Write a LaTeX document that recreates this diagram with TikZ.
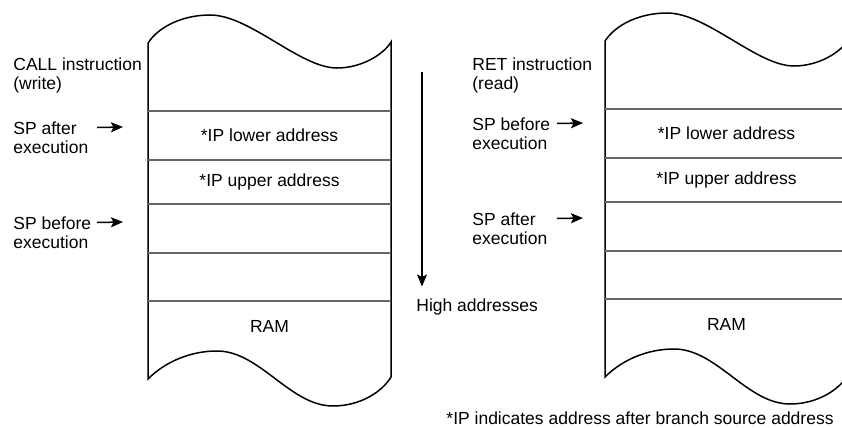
\documentclass[tikz,border=0pt]{standalone}
\usepackage{fontspec}
\setmainfont{Liberation Sans}
\usetikzlibrary{arrows.meta, positioning}
\tikzset{
  lbl/.style={anchor=north west, inner sep=0pt, align=left,
    font=\fontsize{8.75}{9.5}\selectfont},
  cell/.style={inner sep=0pt, font=\fontsize{8.75}{9.5}\selectfont},
  arrow/.style={-{Stealth[length=6pt,width=5pt,inset=1.2pt]}, line width=0.75pt},
  outline/.style={line width=0.75pt},
  rowline/.style={draw=black!60, line width=0.55pt},
}
\begin{document}
\begin{tikzpicture}[x=0.5pt, y=-0.5pt]
  \useasboundingbox (0,0) rectangle (842,428);
  \clip (0,0) rectangle (842,428);

  % the two stack pictures (write / read)
  \foreach \dx/\dy/\s in {0/0/l, 457/-2/r}{
    \begin{scope}[shift={(\dx,\dy)}]
      \draw[outline] (148,43) .. controls (160,25) and (185,15) .. (210,15)
        .. controls (250,15) and (300,68) .. (337,68)
        .. controls (362,68) and (384,54) .. (391,42)
        -- (391,377)
        .. controls (382,392) and (360,406) .. (333,406)
        .. controls (290,406) and (260,351) .. (217,351)
        .. controls (190,351) and (165,362) .. (148,379) -- cycle;
      \foreach \yy in {111,160,204,253,301}
        \draw[rowline] (148,\yy) -- (391,\yy);
      \node[cell] (lo\s)  at (269.5,135) {*IP lower address};
      \node[cell] (up\s)  at (269.5,182) {*IP upper address};
      \node[cell] (ram\s) at (269.5,326) {RAM};
    \end{scope}
  }

  % labels, left
  \node[lbl] (call)     at (13,57.5) {CALL instruction\\(write)};
  \node[lbl] (lspafter) at (13,121)  {SP after\\execution};
  \node[lbl] (lspbefore)at (13,216)  {SP before\\execution};
  \coordinate (lpa) at (123,127);
  \coordinate (lpb) at (123,222);
  \draw[arrow] (lspafter.north west) ++(84,6.5) -- (lpa);
  \draw[arrow] (lspbefore.north west) ++(84,6.5) -- (lpb);

  % labels, right
  \node[lbl] (ret)       at (472,57.5) {RET instruction\\(read)};
  \node[lbl] (rspbefore) at (472,117)  {SP before\\execution};
  \node[lbl] (rspafter)  at (472,212)  {SP after\\execution};
  \coordinate (rpb) at (583,123);
  \coordinate (rpa) at (583,218);
  \draw[arrow] (rspbefore.north west) ++(85,6.5) -- (rpb);
  \draw[arrow] (rspafter.north west) ++(85,6.5) -- (rpa);

  % address direction
  \node[lbl] (high) at (416,298.5) {High addresses};
  \coordinate (hstart) at (422,72);
  \draw[arrow, shorten >=6pt] (hstart) -- (high.north west -| hstart);

  \node[cell, anchor=base east] (note) at (834,424)
    {*IP indicates address after branch source address};
\end{tikzpicture}
\end{document}
